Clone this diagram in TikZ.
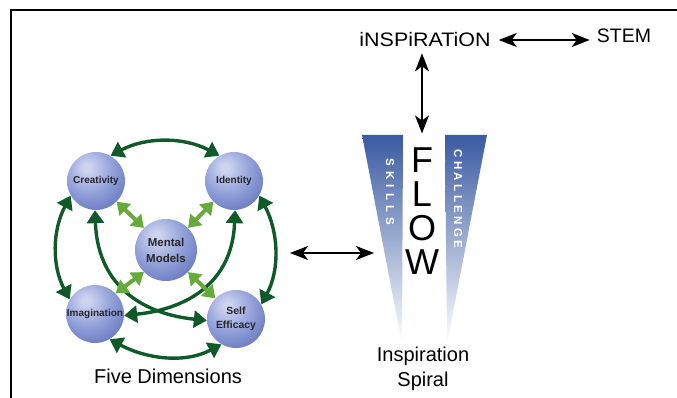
\documentclass[tikz,border=0pt]{standalone}
\usepackage{fontspec}
\setmainfont{Liberation Sans}
\usetikzlibrary{arrows.meta}

\definecolor{darkgreen}{RGB}{16,90,42}
\definecolor{leafgreen}{RGB}{102,170,60}
\definecolor{orbhi}{RGB}{206,212,240}
\definecolor{orbmid}{RGB}{148,162,218}
\definecolor{orbdark}{RGB}{98,116,190}
\definecolor{orbedge}{RGB}{44,60,134}
\definecolor{spiralblue}{RGB}{58,90,162}

\pgfdeclareradialshading{orb}{\pgfpoint{-8bp}{12bp}}{%
  color(0bp)=(orbhi); color(3bp)=(orbhi); color(20bp)=(orbmid);
  color(38bp)=(orbdark); color(52bp)=(orbedge); color(100bp)=(orbedge)}

\tikzset{
  sphere/.style={
    circle,
    shading=orb,
    minimum size=58pt,
    inner sep=0pt,
    align=center,
    text=black!85,
    font=\fontsize{10}{14}\selectfont\bfseries
  },
  outerarrow/.style={{Triangle[length=13pt,width=17pt]}-{Triangle[length=13pt,width=17pt]}, line width=3.4pt, draw=darkgreen},
  innerarrow/.style={{Triangle[length=12pt,width=16pt]}-{Triangle[length=12pt,width=16pt]}, line width=4pt, draw=leafgreen},
  blackarrow/.style={{Stealth[length=18pt,width=14pt,inset=5pt]}-{Stealth[length=18pt,width=14pt,inset=5pt]}, line width=1.6pt},
  heading/.style={font=\fontsize{19.5}{22}\selectfont, inner sep=0pt},
  caption/.style={font=\fontsize{20}{25}\selectfont, align=center, inner sep=0pt},
  vertlabel/.style={rotate=-90, text=white, inner sep=0pt, font=\fontsize{11.5}{12}\selectfont\bfseries}
}

\begin{document}
\begin{tikzpicture}[x=1pt, y=-1pt]
  \useasboundingbox (0,0) rectangle (677,398);
  \draw[line width=1.4pt] (11,398) -- (11,10) -- (677,10);

  % five dimensions
  \node[sphere] (creativity) at (96,181) {Creativity};
  \node[sphere] (identity) at (234,181) {Identity};
  \node[sphere, minimum size=62pt, font=\fontsize{11.5}{16}\selectfont\bfseries] (mental) at (166,250) {Mental\\Models};
  \node[sphere] (imagination) at (95,314) {Imagination};
  \node[sphere, font=\fontsize{10.4}{14}\selectfont\bfseries] (selfeff) at (236,319) {Self\\Efficacy};
  \node[caption] (fivedim) at (168,376) {Five Dimensions};

  \draw[outerarrow] (creativity.60) to[out=28, in=152, looseness=0.95] (identity.120);
  \draw[outerarrow] (identity.-30) to[out=-62, in=62, looseness=0.95] (selfeff.30);
  \draw[outerarrow] (selfeff.-120) to[out=-152, in=-28, looseness=0.95] (imagination.-60);
  \draw[outerarrow] (imagination.150) to[out=118, in=-118, looseness=0.95] (creativity.210);
  \draw[outerarrow] (creativity.-92) to[out=-88, in=174, looseness=1.15] (selfeff.183);
  \draw[outerarrow] (identity.-88) to[out=-92, in=6, looseness=1.15] (imagination.-3);

  \draw[innerarrow] (creativity.-45) -- (mental.135);
  \draw[innerarrow] (identity.-135) -- (mental.45);
  \draw[innerarrow] (imagination.45) -- (mental.-135);
  \draw[innerarrow] (selfeff.135) -- (mental.-45);

  % inspiration spiral
  \shade[top color=spiralblue, middle color=spiralblue!50!white, bottom color=white] (362,135) -- (403,135) -- (402,344) -- cycle;
  \shade[top color=spiralblue, middle color=spiralblue!50!white, bottom color=white] (445,135) -- (487,135) -- (447,344) -- cycle;
  \node[vertlabel] (skills) at (390,192) {\addfontfeature{LetterSpace=45}SKILLS};
  \node[vertlabel] (challenge) at (458,199) {\addfontfeature{LetterSpace=30}CHALLENGE};
  \node[font=\fontsize{36}{34}\selectfont, align=center, inner sep=0pt] (flow) at (422,211) {F\\L\\O\\W};
  \node[caption, anchor=north] (spiral) at (423,347) {Inspiration\\Spiral};

  \node[heading, xscale=1.1] (insp) at (425,40) {iNSPiRATiON};
  \node[heading] (stem) at (624,36) {STEM};

  \coordinate (dimright) at (290,253);
  \coordinate (spiralleft) at (374,253);

  \draw[blackarrow] ([xshift=8pt]insp.east) -- ([xshift=-7pt]insp.east -| stem.west);
  \draw[blackarrow] ([yshift=-6pt]insp.south -| flow.north) -- ([yshift=14pt]flow.north);
  \draw[blackarrow] (dimright) -- (spiralleft);
\end{tikzpicture}
\end{document}
